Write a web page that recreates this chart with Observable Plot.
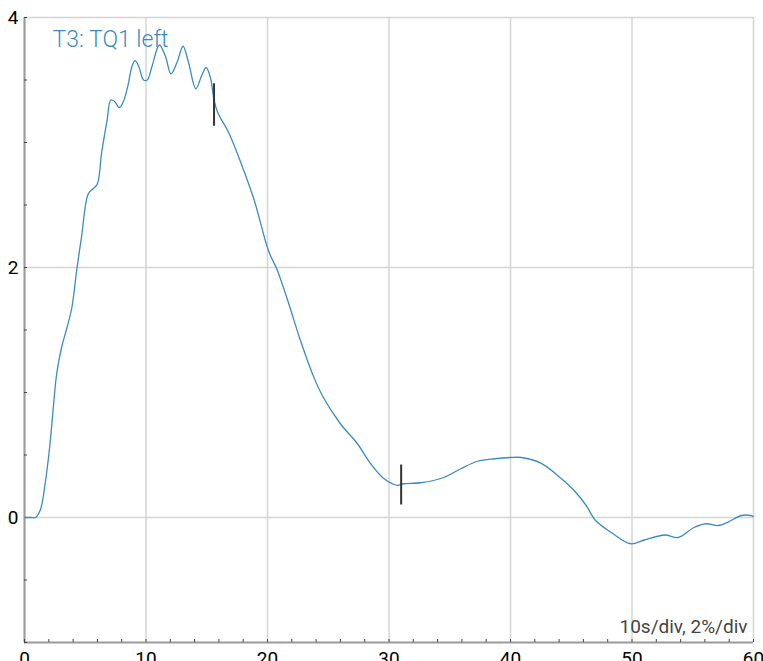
<!DOCTYPE html>
<html>
<head>
<meta charset="utf-8">
<script src="https://cdn.jsdelivr.net/npm/d3@7"></script>
<script src="https://cdn.jsdelivr.net/npm/@observablehq/plot@0.6"></script>
<style>
  html, body { margin: 0; padding: 0; background: #fff; }
  #chart { width: 763px; height: 661px; overflow: hidden; }
  svg { font-family: Roboto, "Noto Sans", sans-serif; }
</style>
</head>
<body>
<div id="chart"></div>
<script>
// Trace: time (s) and value (%)
const timeS = [0, 0.5, 0.9, 1.3, 1.7, 2.1, 2.4, 2.65, 3.05, 3.5, 3.9, 4.3, 4.7, 5.25, 5.65, 6.0, 6.35, 6.8, 7.1, 7.4, 7.8, 8.15, 8.5, 8.85, 9.1, 9.4, 9.8, 10.1, 10.5, 11.1, 11.6, 12.05, 12.55, 13.05, 13.5, 14.1, 14.6, 14.95, 15.3, 15.6, 15.9, 16.8, 17.8, 18.9, 20.1, 20.8, 21.75, 22.7, 23.8, 24.6, 26.0, 27.4, 28.5, 29.6, 30.7, 31.2, 32.6, 34.5, 35.9, 37.3, 38.7, 40.0, 40.9, 42.5, 44.2, 45.2, 46.2, 47.0, 48.3, 49.9, 51.0, 52.7, 53.8, 55.1, 56.1, 57.1, 57.9, 59.0, 59.8, 60];
const valuePct = [0, 0, 0, 0.06, 0.27, 0.59, 0.91, 1.15, 1.36, 1.52, 1.68, 1.98, 2.25, 2.59, 2.63, 2.67, 2.92, 3.18, 3.34, 3.33, 3.28, 3.33, 3.45, 3.61, 3.655, 3.61, 3.50, 3.50, 3.61, 3.78, 3.69, 3.55, 3.64, 3.77, 3.64, 3.43, 3.54, 3.60, 3.52, 3.34, 3.24, 3.08, 2.84, 2.54, 2.13, 1.98, 1.71, 1.42, 1.125, 0.96, 0.75, 0.59, 0.43, 0.31, 0.257, 0.27, 0.278, 0.32, 0.39, 0.45, 0.47, 0.48, 0.48, 0.435, 0.31, 0.22, 0.10, -0.024, -0.12, -0.21, -0.18, -0.14, -0.16, -0.08, -0.05, -0.064, -0.037, 0.016, 0.016, 0.008];

// Cursor markers
const markerX = [15.6, 31.0];
const markerLow = [3.13, 0.10];
const markerHigh = [3.47, 0.42];

// Ticks
const xMajorTicks = [0, 10, 20, 30, 40, 50, 60];
const xMinorTicks = d3.range(0, 61, 2);
const yMajorTicks = [0, 2, 4];
const yMinorTicks = d3.range(-1, 4.01, 0.5);

const traceLabel = "T3: TQ1 left";
const scaleLabel = "10s/div, 2%/div";

const trace = timeS.map((t, i) => ({t, v: valuePct[i]}));
const markers = markerX.map((x, i) => ({x, y1: markerLow[i], y2: markerHigh[i]}));

const lineColor = "#3a8cc0";

const chart = Plot.plot({
  width: 763,
  height: 661,
  marginLeft: 24,
  marginRight: 10,
  marginTop: 17,
  marginBottom: 19,
  style: {fontFamily: "Roboto, sans-serif", background: "#fff"},
  x: {domain: [0, 60]},
  y: {domain: [-1, 4]},
  marks: [
    Plot.ruleX(xMajorTicks, {stroke: "#d4d4d4", strokeWidth: 1.5}),
    Plot.ruleY(yMajorTicks, {stroke: "#d4d4d4", strokeWidth: 1.5}),
    Plot.ruleX([0], {stroke: "#9a9a9a", strokeWidth: 2}),
    Plot.ruleY([-1], {stroke: "#9a9a9a", strokeWidth: 2}),
    Plot.axisX(xMinorTicks, {tickSize: -3, stroke: "#444", tickFormat: () => "", label: null}),
    Plot.axisY(yMinorTicks, {tickSize: -3, stroke: "#444", tickFormat: () => "", label: null}),
    Plot.axisX(xMajorTicks, {tickSize: 0, tickPadding: 9, fontSize: 19, fill: "#000", label: null, lineAnchor: "top", tickFormat: d => String(d)}),
    Plot.axisY(yMajorTicks, {tickSize: 0, tickPadding: 6, fontSize: 19, fill: "#000", label: null, tickFormat: d => String(d)}),
    Plot.line(trace, {x: "t", y: "v", stroke: lineColor, strokeWidth: 1.3, curve: "catmull-rom"}),
    Plot.ruleX(markers, {x: "x", y1: "y1", y2: "y2", stroke: "#333", strokeWidth: 2}),
    Plot.text([traceLabel], {frameAnchor: "top-left", dx: 28, dy: 13, lineAnchor: "top", textAnchor: "start", fontSize: 23, fontWeight: 300, fill: lineColor}),
    Plot.text([scaleLabel], {frameAnchor: "bottom-right", dx: -6, dy: -10, lineAnchor: "bottom", textAnchor: "end", fontSize: 19, fill: "#444"})
  ]
});
document.getElementById("chart").appendChild(chart);
</script>
</body>
</html>
